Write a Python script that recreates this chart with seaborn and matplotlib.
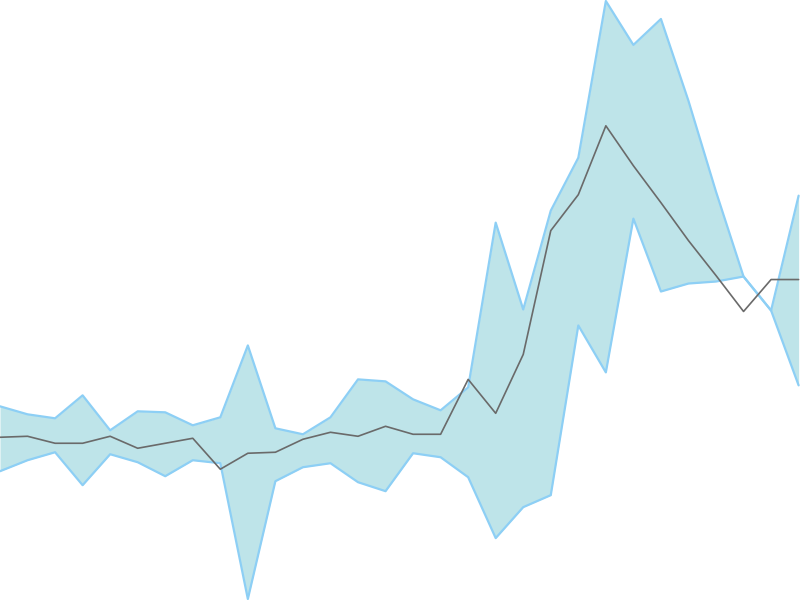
import matplotlib
matplotlib.use("Agg")
import matplotlib.pyplot as plt
import pandas as pd
import seaborn as sns

# values (arbitrary units, higher = up)
upper = [194, 186, 182, 205, 170, 189, 188, 175, 183, 255, 172, 166, 183, 221, 219,
         201, 190, 213, 378, 291, 390, 443, 600, 556, 582, 500, 409, 324, 290, 405]
lower = [129, 140, 148, 115, 146, 138, 124, 140, 137, 1, 119, 133, 137, 118, 109,
         147, 143, 123, 62, 93, 105, 275, 228, 382, 309, 317, 319, 324, 290, 215]
middle = [163, 164, 157, 157, 164, 152, 157, 162, 131, 147, 148, 161, 168, 164, 174,
          166, 166, 221, 187, 246, 370, 406, 475, 435, 398, 360, 325, 289, 321, 321]

df = pd.DataFrame({
    "step": range(len(middle)),
    "upper": upper,
    "lower": lower,
    "middle": middle,
})

sns.set_style("white")
fig = plt.figure(figsize=(8, 6), dpi=100)
ax = fig.add_axes([0, 0, 1, 1])

ax.fill_between(df.step, df.lower, df.upper, color="#bee4e9", linewidth=0)
sns.lineplot(data=df, x="step", y="upper", color="#8dcff5", linewidth=1.6, ax=ax)
sns.lineplot(data=df, x="step", y="lower", color="#8dcff5", linewidth=1.6, ax=ax)
sns.lineplot(data=df, x="step", y="middle", color="#6a6a6a", linewidth=1.2, ax=ax)

ax.set_xlim(0, 29.05)
ax.set_ylim(0, 601)
ax.set_axis_off()

fig.savefig("out.png", dpi=100)
